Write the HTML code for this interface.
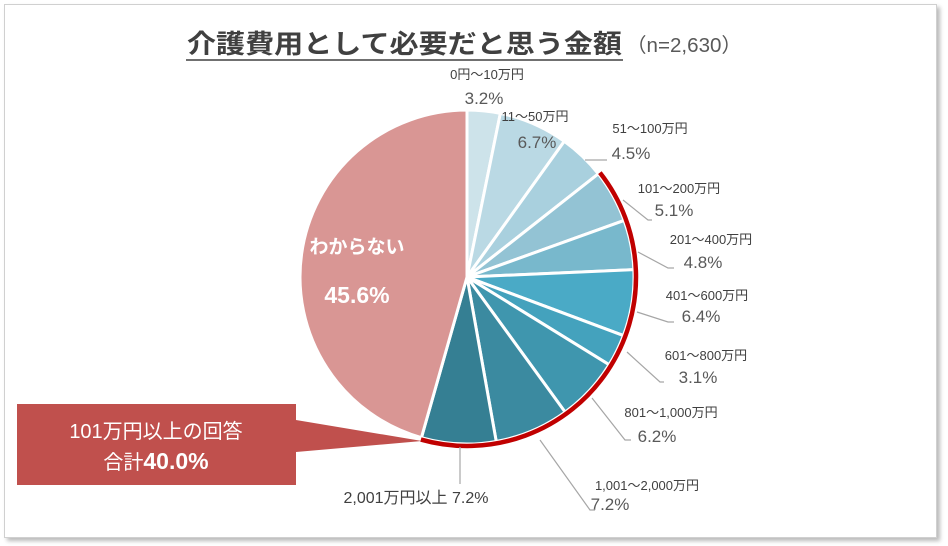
<!DOCTYPE html>
<html><head><meta charset="utf-8">
<style>
html,body{margin:0;padding:0;background:#fff;}
body{width:948px;height:546px;position:relative;overflow:hidden;font-family:"Liberation Sans","Noto Sans CJK JP",sans-serif;}
#frame{position:absolute;left:4px;top:4px;width:931px;height:532px;border:1px solid #d0d0d0;box-shadow:3px 3px 4px #bbb;background:#fff;}
svg{position:absolute;left:0;top:0;}
text{font-family:"Liberation Sans","Noto Sans CJK JP",sans-serif;}
</style></head><body>
<div id="frame"></div>
<svg id="chart" width="948" height="546">
  <text x="187" y="53" font-size="26" font-weight="bold" fill="#404040" textLength="435" lengthAdjust="spacingAndGlyphs">介護費用として必要だと思う金額</text>
  <line x1="186" y1="60" x2="623" y2="60" stroke="#404040" stroke-width="1.5"/>
  <text x="626" y="52" font-size="20" fill="#595959" textLength="116" lengthAdjust="spacingAndGlyphs">（n=2,630）</text>
  <g id="slices"></g>
  <g id="labels"></g>
  <polygon points="296,420 296,452 422,441" fill="#c0504d"/>
  <rect x="17" y="404" width="279" height="81" fill="#c0504d"/>
  <text x="156" y="438" text-anchor="middle" font-size="20" fill="#fff">101万円以上の回答</text>
  <text x="156" y="469" text-anchor="middle" font-size="20" fill="#fff">合計<tspan font-weight="bold" font-size="23">40.0%</tspan></text>
</svg>
<script>
const categories=["0円～10万円","11～50万円","51～100万円","101～200万円","201～400万円","401～600万円","601～800万円","801～1,000万円","1,001～2,000万円","2,001万円以上","わからない"];
const values=[3.2,6.7,4.5,5.1,4.8,6.4,3.1,6.2,7.2,7.2,45.6];
const colors=["#cde3ea","#bad9e4","#a9d0de","#93c3d4","#78b8cc","#4aaac6","#44a2bd","#3f96ae","#3b8aa0","#357f93","#d99694"];
const highlightFrom=3, highlightTo=9;
const cx=467, cy=277, R=167;
const total=values.reduce((a,b)=>a+b,0);
const NS="http://www.w3.org/2000/svg";
function ang(v){return v/total*2*Math.PI-Math.PI/2;}
function pt(a,r){return [cx+r*Math.cos(a),cy+r*Math.sin(a)];}
const g=document.getElementById('slices');
let cum=0;
values.forEach((v,i)=>{
  const a0=ang(cum),a1=ang(cum+v);cum+=v;
  const p0=pt(a0,R),p1=pt(a1,R);
  const large=(a1-a0)>Math.PI?1:0;
  const p=document.createElementNS(NS,'path');
  p.setAttribute('d',`M${cx},${cy} L${p0[0]},${p0[1]} A${R},${R} 0 ${large} 1 ${p1[0]},${p1[1]} Z`);
  p.setAttribute('fill',colors[i]);p.setAttribute('stroke','#fff');p.setAttribute('stroke-width','3');
  
  
  g.appendChild(p);
});
let hs=0;for(let i=0;i<highlightFrom;i++)hs+=values[i];
let he=hs;for(let i=highlightFrom;i<=highlightTo;i++)he+=values[i];
{const r2=R+2,a0=ang(hs),a1=ang(he),p0=pt(a0,r2),p1=pt(a1,r2);
const arc=document.createElementNS(NS,'path');
arc.setAttribute('d',`M${p0[0]},${p0[1]} A${r2},${r2} 0 ${(a1-a0)>Math.PI?1:0} 1 ${p1[0]},${p1[1]}`);
arc.setAttribute('fill','none');arc.setAttribute('stroke','#c00000');arc.setAttribute('stroke-width','4.5');


g.appendChild(arc);}
const L=document.getElementById('labels');
const labelPos=[[487,79,484,104],[535,121,537,148],[650,133,631,159],[679,193,674,216],[711,244,703,268],[707,300,701,322],[706,360,698,383],[671,417,657,442],[647,490,610,510]];
const leaders=[null,null,"585,160 607,160","623,200 648,220 652,220","638,252 668,268 674,268","637,312 668,322 674,322","627,352 660,382 664,382","592,398 625,440 631,440","540,440 590,510 595,510"];
function txt(x,y,s,size,fill,name,anchor){const t=document.createElementNS(NS,'text');t.setAttribute('x',x);t.setAttribute('y',y);t.setAttribute('font-size',size);t.setAttribute('fill',fill);t.setAttribute('text-anchor',anchor||'middle');t.textContent=s;


L.appendChild(t);return t;}
for(let i=0;i<9;i++){
  const q=labelPos[i];
  txt(q[0],q[1],categories[i],13,'#404040','label-category-'+i);
  txt(q[2],q[3],values[i].toFixed(1)+'%',17,'#595959','label-value-'+i);
  if(leaders[i]){const pl=document.createElementNS(NS,'polyline');pl.setAttribute('points',leaders[i]);pl.setAttribute('fill','none');pl.setAttribute('stroke','#a6a6a6');pl.setAttribute('stroke-width','1.2');
  
  
  L.appendChild(pl);}
}
{const pl=document.createElementNS(NS,'polyline');pl.setAttribute('points','460,447 460,484');pl.setAttribute('fill','none');pl.setAttribute('stroke','#a6a6a6');pl.setAttribute('stroke-width','1.2');


L.appendChild(pl);}
txt(416,503,categories[9]+' '+values[9].toFixed(1)+'%',16,'#404040','label-9');
const t1=txt(357,253,categories[10],19,'#fff','label-unknown-category');t1.setAttribute('font-weight','bold');
const t2=txt(357,303,values[10].toFixed(1)+'%',23,'#fff','label-unknown-value');t2.setAttribute('font-weight','bold');
</script>
</body></html>
